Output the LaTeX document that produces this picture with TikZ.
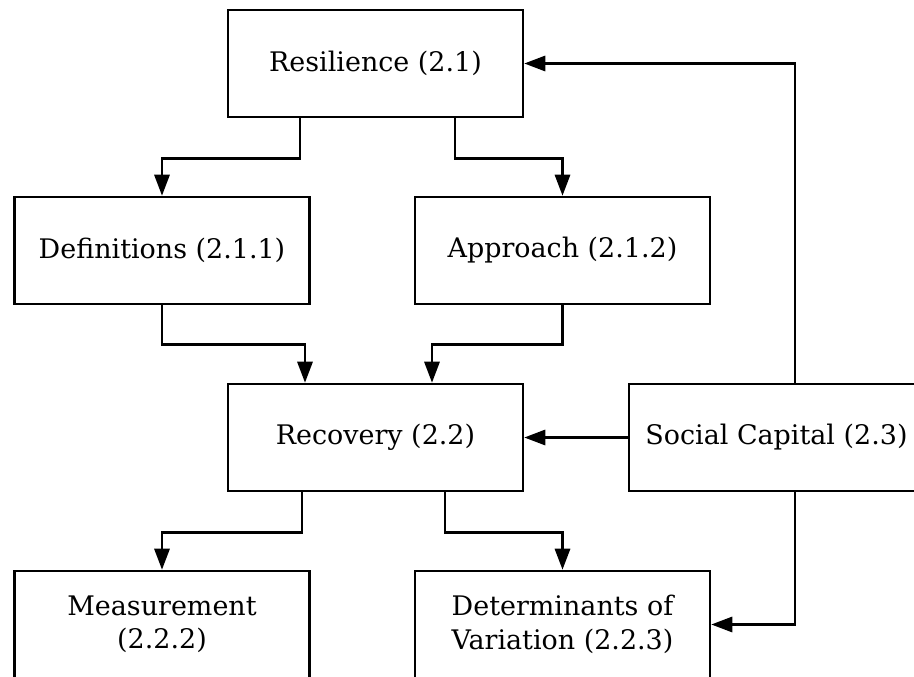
\documentclass[tikz,border=0pt]{standalone}
\usepackage{fontspec}
\setmainfont{DejaVu Serif}
\usetikzlibrary{arrows.meta}
\newcommand{\px}{0.03cm}

\begin{document}
\begin{tikzpicture}[x=\px, y=-\px,
    box/.style={draw, rectangle, line width=2.2pt, minimum width=295*\px, minimum height=107*\px, inner sep=0pt, align=center, font=\fontsize{23}{28.5}\selectfont},
    arr/.style={line width=2.2pt, -{Triangle[length=18pt, width=13pt]}}]
    \clip (0,0) rectangle (914,677);

    % First row
    \node[box] (res) at (375.5,63.5) {Resilience (2.1)};

    % Second row
    \node[box] (def) at (162,250.5) {Definitions (2.1.1)};
    \node[box] (app) at (562.5,250.5) {Approach (2.1.2)};

    % Third row
    \node[box] (rec) at (375.5,437.5) {Recovery (2.2)};
    \node[box] (soc) at (776.5,437.5) {Social Capital (2.3)};

    % Fourth row
    \node[box] (mea) at (162,624.5) {Measurement\\(2.2.2)};
    \node[box] (det) at (562.5,624.5) {Determinants of\\Variation (2.2.3)};

    % Arrows
    \draw[arr] ([xshift=-75.5*\px]res.south) -- ++(0,40) -| (def.north);
    \draw[arr] ([xshift=79.5*\px]res.south) -- ++(0,40) -| (app.north);
    \draw[arr] (def.south) -- ++(0,39) -| ([xshift=-70.5*\px]rec.north);
    \draw[arr] (app.south) -- ++(0,39) -| ([xshift=56.5*\px]rec.north);
    \draw[arr] (soc.west) -- (rec.east);
    \draw[arr] ([xshift=18.5*\px]soc.north) |- (res.east);
    \draw[arr] ([xshift=-73.5*\px]rec.south) -- ++(0,40) -| (mea.north);
    \draw[arr] ([xshift=69.5*\px]rec.south) -- ++(0,40) -| (det.north);
    \draw[arr] ([xshift=18.5*\px]soc.south) |- (det.east);

\end{tikzpicture}
\end{document}
